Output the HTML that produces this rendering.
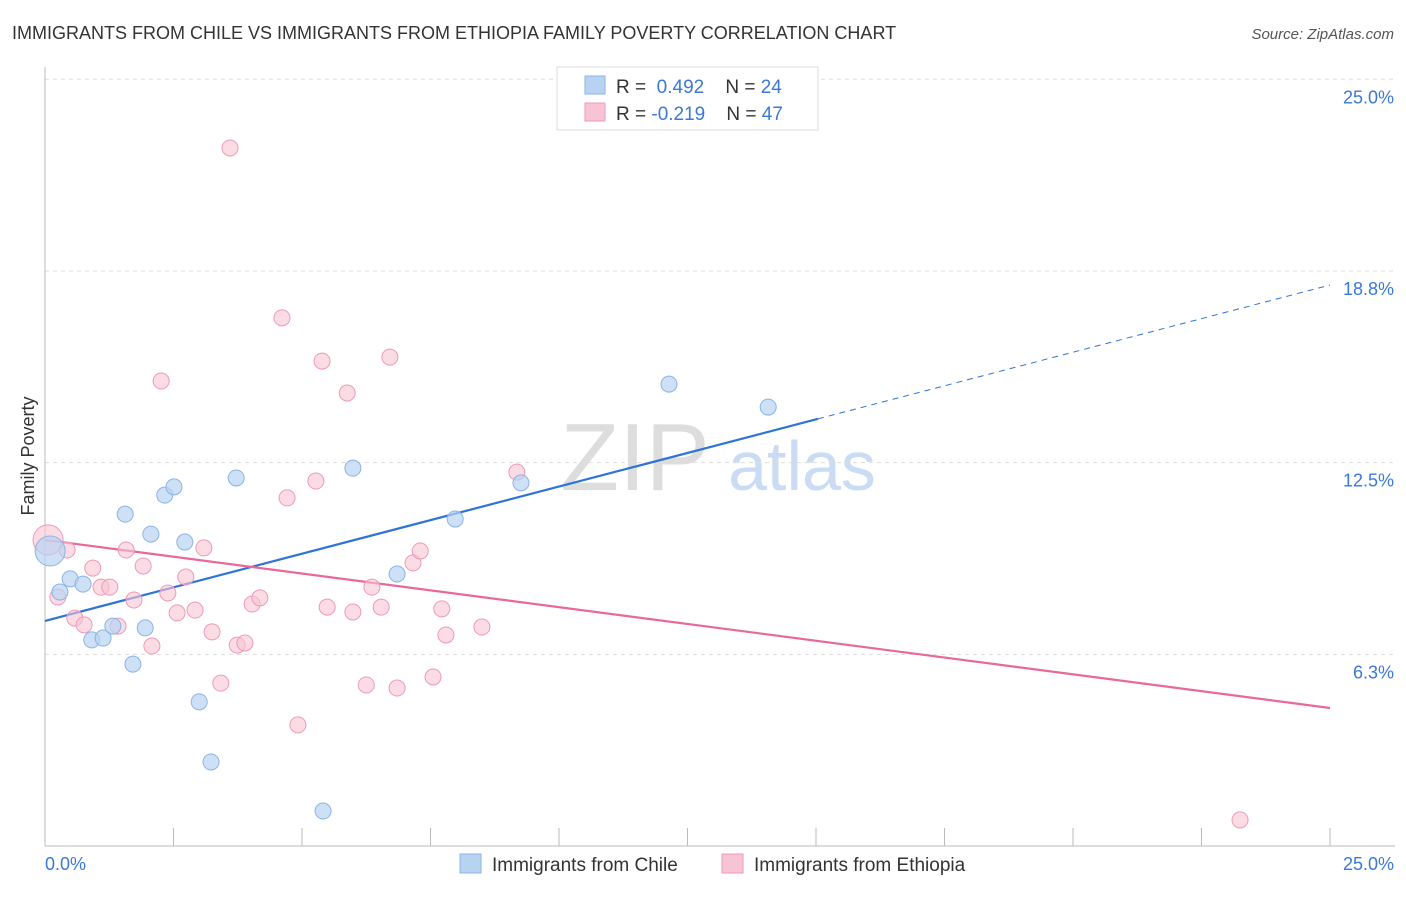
<!DOCTYPE html>
<html><head><meta charset="utf-8"><style>
body{margin:0;background:#fff;font-family:"Liberation Sans",sans-serif;}
svg text{font-family:"Liberation Sans",sans-serif;}
</style></head><body>
<svg id="chart" width="1406" height="892" viewBox="0 0 1406 892">
<text x="12" y="39" font-size="18" fill="#333">IMMIGRANTS FROM CHILE VS IMMIGRANTS FROM ETHIOPIA FAMILY POVERTY CORRELATION CHART</text>
<text x="1394" y="39" font-size="15" fill="#555" text-anchor="end" font-style="italic">Source: ZipAtlas.com</text>
<g>
<text x="635" y="490" font-size="96" fill="#ddd" font-family="Liberation Serif,serif" text-anchor="middle">ZIP</text>
<text x="802" y="490" font-size="70" fill="#c9dcf3" text-anchor="middle">atlas</text>
</g>
<g id="grid"></g>
<g id="axes"></g>
<g id="lines"></g>
<g id="points"></g>
<text transform="translate(34,456) rotate(-90)" font-size="18" fill="#333" text-anchor="middle">Family Poverty</text>
<text x="45" y="870" font-size="18" fill="#3b78d8">0.0%</text>
<text x="1394" y="870" font-size="18" fill="#3b78d8" text-anchor="end">25.0%</text>
<g>
<rect x="557" y="67" width="261" height="63" fill="#fff" stroke="#ddd"/>
<rect x="585" y="76" width="20" height="18" fill="#b8d3f2" stroke="#8ab4e6"/>
<rect x="585" y="103" width="20" height="18" fill="#f8c4d4" stroke="#ee9ab6"/>
<text x="616" y="93" font-size="19" fill="#333">R = <tspan fill="#3b78d8">&#160;0.492</tspan>&#160;&#160;&#160; N = <tspan fill="#3b78d8">24</tspan></text>
<text x="616" y="120" font-size="19" fill="#333">R = <tspan fill="#3b78d8">-0.219</tspan>&#160;&#160;&#160; N = <tspan fill="#3b78d8">47</tspan></text>
</g>
<g>
<rect x="460" y="854" width="21" height="19" fill="#b8d3f2" stroke="#8ab4e6"/>
<text x="492" y="871" font-size="19" fill="#333">Immigrants from Chile</text>
<rect x="722" y="854" width="21" height="19" fill="#f8c4d4" stroke="#ee9ab6"/>
<text x="754" y="871" font-size="19" fill="#333">Immigrants from Ethiopia</text>
</g>
</svg>
<script>
const yTicks=[25.0,18.8,12.5,6.3];
const yTickVals=[25,18.75,12.5,6.25];
const chileX=[0.1,0.29,0.49,0.74,0.91,1.13,1.32,1.56,1.71,1.95,2.06,2.33,2.51,2.72,3.0,3.23,3.72,5.41,5.99,6.85,7.98,9.26,12.14,14.07];
const chileY=[9.62,8.28,8.71,8.54,6.72,6.78,7.17,10.82,5.93,7.11,10.17,11.44,11.71,9.91,4.7,2.74,12.0,1.14,12.32,8.87,10.66,11.84,15.06,14.31];
const ethX=[0.06,0.25,0.43,0.58,0.76,0.93,1.09,1.26,1.42,1.58,1.73,1.91,2.08,2.26,2.39,2.57,2.74,2.92,3.09,3.25,3.42,3.6,3.74,3.89,4.03,4.18,4.61,4.71,4.92,5.27,5.39,5.49,5.88,5.99,6.25,6.36,6.54,6.71,6.85,7.16,7.3,7.55,7.72,7.8,8.5,9.18,23.25];
const ethY=[9.98,8.12,9.65,7.43,7.21,9.06,8.44,8.44,7.17,9.65,8.02,9.13,6.52,15.16,8.25,7.6,8.77,7.69,9.72,6.98,5.31,22.76,6.55,6.62,7.89,8.09,17.22,11.35,3.95,11.9,15.81,7.79,14.77,7.63,5.25,8.44,7.79,15.94,5.15,9.23,9.62,5.51,7.73,6.88,7.14,12.19,0.85];
const chileTrend=[7.34,18.29]; const chileSolidEnd=15.04;
const ethTrend=[9.98,4.5];
const X=v=>45+v*51.4, Y=v=>846-v*30.67;
const NS='http://www.w3.org/2000/svg';
function mk(t,a,p){const e=document.createElementNS(NS,t);for(const k in a)e.setAttribute(k,a[k]);p.appendChild(e);return e;}
const grid=document.getElementById('grid'),axes=document.getElementById('axes'),lines=document.getElementById('lines'),pts=document.getElementById('points');
yTickVals.forEach((v,i)=>{
 const l=mk('line',{x1:45,x2:1395,y1:Y(v),y2:Y(v),stroke:'#ddd','stroke-dasharray':'4,4'},grid);
 
 
 const t=mk('text',{x:1394,y:Y(v)+24,'font-size':18,fill:'#3b78d8','text-anchor':'end'},grid);
 t.textContent=yTicks[i].toFixed(1)+'%';
 
 
});
const ax=mk('line',{x1:45,x2:45,y1:67,y2:846,stroke:'#bbb'},axes);


const bx=mk('line',{x1:45,x2:1395,y1:846,y2:846,stroke:'#bbb'},axes);


for(let i=0;i<=10;i++){const t=mk('line',{x1:X(i*2.5),x2:X(i*2.5),y1:828,y2:846,stroke:'#bbb'},axes);
 
 }
const slope=(chileTrend[1]-chileTrend[0])/25;
const l1=mk('line',{x1:X(0),y1:Y(chileTrend[0]),x2:X(chileSolidEnd),y2:Y(chileTrend[0]+slope*chileSolidEnd),stroke:'#2e74d6','stroke-width':2.2},lines);


const l2=mk('line',{x1:X(chileSolidEnd),y1:Y(chileTrend[0]+slope*chileSolidEnd),x2:X(25),y2:Y(chileTrend[1]),stroke:'#2e74d6','stroke-width':1,'stroke-dasharray':'6,5'},lines);


const l3=mk('line',{x1:X(0),y1:Y(ethTrend[0]),x2:X(25),y2:Y(ethTrend[1]),stroke:'#e8689a','stroke-width':2.2},lines);


ethX.forEach((x,i)=>{const c=mk('circle',{cx:X(x),cy:Y(ethY[i]),r:i===0?15:8,fill:'#f8c4d4','fill-opacity':0.6,stroke:'#ee9ab6','stroke-width':1},pts);
 
 });
chileX.forEach((x,i)=>{const c=mk('circle',{cx:X(x),cy:Y(chileY[i]),r:i===0?15:8,fill:'#b8d3f2','fill-opacity':0.7,stroke:'#8ab4e6','stroke-width':1},pts);
 
 });
</script>
</body></html>
